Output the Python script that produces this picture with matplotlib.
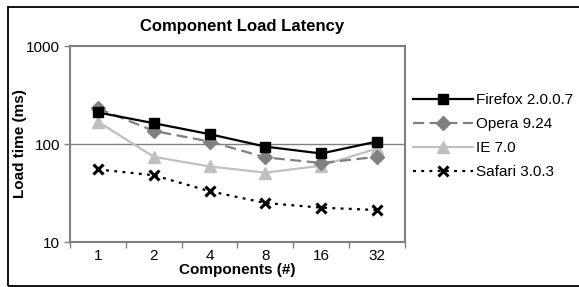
import matplotlib
matplotlib.use("Agg")
import matplotlib.pyplot as plt
from matplotlib.patches import Rectangle
from matplotlib.ticker import FixedLocator, NullLocator, NullFormatter

plt.rcParams['font.family'] = ['Liberation Sans', 'DejaVu Sans']

categories = ["1", "2", "4", "8", "16", "32"]
firefox = [210, 163, 126, 94, 80, 106]
opera = [231, 136, 106, 73, 64, 74]
ie = [169, 74, 59, 51, 60, 90]
safari = [55, 48, 33, 25, 22.4, 21.2]
series_names = ["Firefox 2.0.0.7", "Opera 9.24", "IE 7.0", "Safari 3.0.3"]
y_ticks = [10, 100, 1000]

W, H = 579, 287
fig = plt.figure(figsize=(W / 100, H / 100), dpi=100)

# outer border
fig.add_artist(Rectangle((8 / W, 1 - 286 / H), 1.2, (286 - 7) / H,
                         transform=fig.transFigure, fill=False,
                         edgecolor='black', linewidth=1.3))

ax = fig.add_axes([70 / W, 1 - 242 / H, (405 - 70) / W, (242 - 46) / H])
x = list(range(len(categories)))

grey_spine = '#808080'
ax.plot(x, firefox, color='black', lw=1.6, marker='s', ms=7.5,
        label=series_names[0], zorder=5)
ax.plot(x, opera, color='#808080', lw=1.6, ls=(0, (5, 2.5)), marker='D',
        ms=7, label=series_names[1], zorder=4)
ax.plot(x, ie, color='#c0c0c0', lw=1.6, marker='^', ms=9,
        label=series_names[2], zorder=3)
ax.plot(x, safari, color='black', lw=1.6, ls=(0, (1.3, 2.4)), marker='x',
        ms=7.5, mew=2.2, label=series_names[3], zorder=6)

ax.set_yscale('log')
ax.set_ylim(10, 1000)
ax.set_xlim(-0.5, len(categories) - 0.5)
ax.yaxis.set_major_locator(FixedLocator(y_ticks))
ax.yaxis.set_minor_locator(NullLocator())
ax.yaxis.set_minor_formatter(NullFormatter())
ax.set_yticklabels([str(v) for v in y_ticks])
ax.axhline(100, color=grey_spine, lw=1.0, zorder=1)

ax.set_xticks(x)
ax.set_xticklabels(categories)
ax.set_xticks([i - 0.5 for i in range(len(categories) + 1)], minor=True)
ax.tick_params(axis='x', which='major', length=0, labelsize=11, pad=5)
ax.tick_params(axis='x', which='minor', length=4, width=1, color=grey_spine,
               direction='out')
ax.tick_params(axis='y', which='major', length=4, width=1, color=grey_spine,
               labelsize=11, pad=3)

for s in ax.spines.values():
    s.set_color(grey_spine)
    s.set_linewidth(1.5)

ax.set_xlabel("Components (#)", fontsize=11, fontweight='bold')
ax.xaxis.set_label_coords(0.5, -(270 - 242) / (242 - 46), transform=ax.transAxes)
ax.xaxis.label.set_va('center')
ax.set_ylabel("Load time (ms)", fontsize=11, fontweight='bold')
ax.yaxis.set_label_coords((20 - 70) / (405 - 70), 0.5)
ax.yaxis.label.set_va('center')
fig.text(242 / W, 1 - 26 / H, "Component Load Latency", fontsize=12,
         fontweight='bold', ha='center', va='center')

fig.legend(loc='center left', bbox_to_anchor=(413 / W, 1 - 136 / H),
           frameon=False, fontsize=11, handlelength=3.9, handletextpad=0.2,
           labelspacing=0.65, borderpad=0, borderaxespad=0)

fig.savefig("out.png", dpi=100)
